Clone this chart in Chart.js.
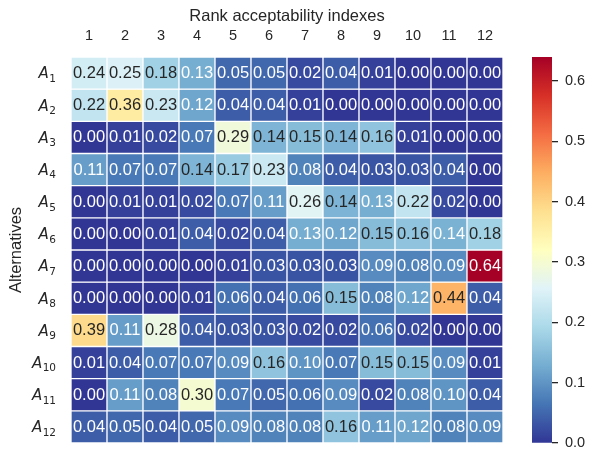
<!DOCTYPE html>
<html>
<head>
<meta charset="utf-8">
<script src="https://cdn.jsdelivr.net/npm/chart.js@4.4.1/dist/chart.umd.min.js"></script>
<style>
  html, body { margin: 0; padding: 0; background: #fff; }
  #wrap { position: relative; width: 596px; height: 463px; }
  #heat { position: absolute; left: 0; top: 0; }
  #cbar { position: absolute; left: 532px; top: 57px; }
</style>
</head>
<body>
<div id="wrap">
  <canvas id="heat" width="596" height="463"></canvas>
  <canvas id="cbar" width="64" height="400"></canvas>
</div>
<script>
// columns (ranks) and rows (alternatives A1..A12, only the subscripts)
const ranks = ['1', '2', '3', '4', '5', '6', '7', '8', '9', '10', '11', '12'];
const alternatives = ['1', '2', '3', '4', '5', '6', '7', '8', '9', '10', '11', '12'];

// rank acceptability indexes, one row per alternative
const acceptability = [
  [0.24, 0.25, 0.18, 0.13, 0.05, 0.05, 0.02, 0.04, 0.01, 0.00, 0.00, 0.00],
  [0.22, 0.36, 0.23, 0.12, 0.04, 0.04, 0.01, 0.00, 0.00, 0.00, 0.00, 0.00],
  [0.00, 0.01, 0.02, 0.07, 0.29, 0.14, 0.15, 0.14, 0.16, 0.01, 0.00, 0.00],
  [0.11, 0.07, 0.07, 0.14, 0.17, 0.23, 0.08, 0.04, 0.03, 0.03, 0.04, 0.00],
  [0.00, 0.01, 0.01, 0.02, 0.07, 0.11, 0.26, 0.14, 0.13, 0.22, 0.02, 0.00],
  [0.00, 0.00, 0.01, 0.04, 0.02, 0.04, 0.13, 0.12, 0.15, 0.16, 0.1354, 0.18],
  [0.00, 0.00, 0.00, 0.00, 0.01, 0.03, 0.03, 0.03, 0.09, 0.08, 0.09, 0.64],
  [0.00, 0.00, 0.00, 0.01, 0.06, 0.04, 0.06, 0.15, 0.08, 0.12, 0.44, 0.04],
  [0.39, 0.11, 0.28, 0.04, 0.03, 0.03, 0.02, 0.02, 0.06, 0.02, 0.00, 0.00],
  [0.01, 0.04, 0.07, 0.07, 0.09, 0.16, 0.10, 0.07, 0.15, 0.15, 0.09, 0.01],
  [0.00, 0.11, 0.08, 0.30, 0.07, 0.05, 0.06, 0.09, 0.02, 0.08, 0.10, 0.04],
  [0.04, 0.05, 0.04, 0.05, 0.09, 0.08, 0.08, 0.16, 0.11, 0.12, 0.08, 0.09]
];

const TEXT = '#262626';
const SANS = '"Liberation Sans", Arial, sans-serif';
const vmax = Math.max(...acceptability.flat());

// RdYlBu reversed, low -> high
const stops = ['313695', '4575b4', '74add1', 'abd9e9', 'e0f3f8', 'ffffbf',
               'fee090', 'fdae61', 'f46d43', 'd73027', 'a50026']
  .map(h => [0, 2, 4].map(k => parseInt(h.substr(k, 2), 16)));

function cmap(t) {
  t = Math.min(1, Math.max(0, t)) * (stops.length - 1);
  const k = Math.min(stops.length - 2, Math.floor(t));
  const f = t - k;
  return stops[k].map((c, n) => c + (stops[k + 1][n] - c) * f);
}
const rgb = c => `rgb(${c.map(Math.round).join(',')})`;

// same rule as seaborn for annotation colour
function luminance(c) {
  const l = c.map(v => {
    v /= 255;
    return v <= 0.03928 ? v / 12.92 : Math.pow((v + 0.055) / 1.055, 2.4);
  });
  return 0.2126 * l[0] + 0.7152 * l[1] + 0.0722 * l[2];
}

const cellLabels = {
  id: 'cellLabels',
  afterDatasetsDraw(chart) {
    const ctx = chart.ctx;
    ctx.save();
    ctx.font = '16.5px ' + SANS;
    ctx.textAlign = 'center';
    ctx.textBaseline = 'middle';
    chart.data.datasets.forEach((ds, i) => {
      chart.getDatasetMeta(i).data.forEach((bar, j) => {
        const v = acceptability[i][j];
        const p = bar.getProps(['x', 'y', 'base'], true);
        ctx.fillStyle = luminance(cmap(v / vmax)) > 0.408 ? TEXT : '#ffffff';
        ctx.fillText(v.toFixed(2), p.x, (p.y + p.base) / 2 + 0.5);
      });
    });
    ctx.restore();
  }
};

// italic A with a subscript, like matplotlib mathtext
const rowLabels = {
  id: 'rowLabels',
  afterDraw(chart) {
    const ctx = chart.ctx;
    const ys = chart.scales.y;
    const right = chart.chartArea.left - 15;
    ctx.save();
    ctx.fillStyle = TEXT;
    ctx.textAlign = 'left';
    ctx.textBaseline = 'alphabetic';
    alternatives.forEach((sub, i) => {
      const cy = ys.getPixelForValue(i + 0.5);
      ctx.font = 'italic 15px "DejaVu Sans"';
      const wA = ctx.measureText('A').width;
      ctx.font = '10.5px "DejaVu Sans"';
      const wS = ctx.measureText(sub).width;
      const x0 = right - wS - wA - 0.5;
      ctx.font = 'italic 15px "DejaVu Sans"';
      ctx.fillText('A', x0, cy + 5.3);
      ctx.font = '10.5px "DejaVu Sans"';
      ctx.fillText(sub, x0 + wA + 0.5, cy + 8.8);
    });
    ctx.restore();
  }
};

new Chart(document.getElementById('heat'), {
  type: 'bar',
  data: {
    labels: ranks,
    datasets: alternatives.map((a, i) => ({
      label: 'A' + a,
      data: ranks.map(() => 1),
      backgroundColor: acceptability[i].map(v => rgb(cmap(v / vmax))),
      borderColor: '#ffffff',
      borderWidth: 1,
      borderSkipped: false,
      barPercentage: 1,
      categoryPercentage: 1
    }))
  },
  options: {
    responsive: false,
    animation: false,
    layout: { padding: { left: 0, top: 0, right: 93, bottom: 20 } },
    plugins: { legend: { display: false }, tooltip: { enabled: false } },
    scales: {
      x: {
        position: 'top',
        stacked: true,
        grid: { display: false, drawTicks: false },
        border: { display: false },
        ticks: { color: TEXT, font: { family: SANS, size: 14.5 }, padding: 12 },
        title: {
          display: true, text: 'Rank acceptability indexes', color: TEXT,
          font: { family: SANS, size: 16.5 }, padding: { top: 7, bottom: 0 }
        },
        afterFit: s => { s.height = 57; s.paddingLeft = 0; s.paddingRight = 0; }
      },
      y: {
        stacked: true,
        min: 0,
        max: 12,
        reverse: true,
        grid: { display: false, drawTicks: false },
        border: { display: false },
        ticks: { display: false },
        title: {
          display: true, text: 'Alternatives', color: TEXT,
          font: { family: SANS, size: 16.5 }, padding: { top: 7, bottom: 0 }
        },
        afterFit: s => { s.width = 71; s.paddingTop = 0; s.paddingBottom = 0; }
      }
    }
  },
  plugins: [cellLabels, rowLabels]
});

// colour bar
function barGradient(chart) {
  const a = chart.chartArea;
  if (!a) return null;
  const g = chart.ctx.createLinearGradient(0, a.bottom, 0, a.top);
  stops.forEach((c, k) => g.addColorStop(k / (stops.length - 1), rgb(c)));
  return g;
}

new Chart(document.getElementById('cbar'), {
  type: 'bar',
  data: {
    labels: ['scale'],
    datasets: [{
      data: [vmax],
      backgroundColor: c => barGradient(c.chart),
      borderWidth: 0,
      barPercentage: 1,
      categoryPercentage: 1
    }]
  },
  options: {
    responsive: false,
    animation: false,
    layout: { padding: { left: 0, top: 0, right: 0, bottom: 14 } },
    plugins: { legend: { display: false }, tooltip: { enabled: false } },
    scales: {
      x: { display: false },
      y: {
        position: 'right',
        min: 0,
        max: vmax,
        grid: { display: true, drawOnChartArea: false, drawTicks: true, tickLength: 6, color: TEXT, lineWidth: 1.3 },
        border: { display: false },
        ticks: {
          stepSize: 0.1, includeBounds: false, color: TEXT, padding: 7,
          font: { family: SANS, size: 14.5 }, callback: v => v.toFixed(1)
        },
        afterFit: s => { s.width = 44; s.paddingTop = 0; s.paddingBottom = 0; }
      }
    }
  }
});
</script>
</body>
</html>
